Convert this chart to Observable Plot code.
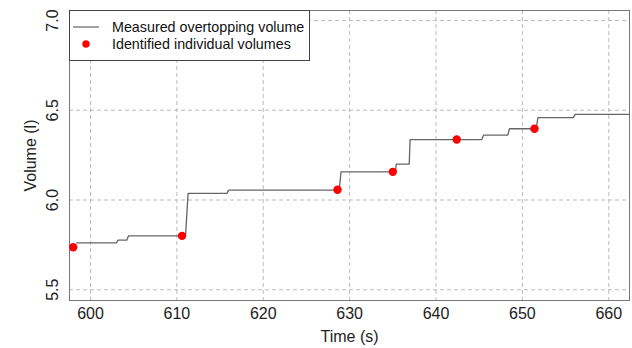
<!DOCTYPE html>
<html>
<head>
<meta charset="utf-8">
<script src="https://cdn.jsdelivr.net/npm/d3@7"></script>
<script src="https://cdn.jsdelivr.net/npm/@observablehq/plot@0.6"></script>
<style>
  html, body { margin: 0; padding: 0; background: #fff; }
</style>
</head>
<body>
<div id="wrap"></div>
<script>
// Measured overtopping volume (stepped trace)
const lineTime   = [598.4, 603.0, 603.2, 604.2, 604.4, 611.0, 611.3, 615.8, 616.0, 628.8, 629.0, 635.3, 635.4, 636.9, 637.0, 645.3, 645.5, 648.3, 648.5, 651.6, 651.8, 655.9, 656.1, 662.4];
const lineVolume = [5.761, 5.761, 5.776, 5.776, 5.800, 5.800, 6.037, 6.037, 6.055, 6.055, 6.157, 6.157, 6.200, 6.200, 6.337, 6.337, 6.361, 6.361, 6.397, 6.397, 6.459, 6.459, 6.477, 6.477];
// Identified individual volumes
const pointTime   = [598.0, 610.6, 628.6, 635.0, 642.4, 651.4];
const pointVolume = [5.737, 5.800, 6.057, 6.157, 6.337, 6.397];
// Ticks
const xTicks = [600, 610, 620, 630, 640, 650, 660];
const yTicks = [5.5, 6.0, 6.5, 7.0];
// Legend labels
const legendLabels = ["Measured overtopping volume", "Identified individual volumes"];

const lineData = lineTime.map((t, i) => ({t, v: lineVolume[i]}));
const pointData = pointTime.map((t, i) => ({t, v: pointVolume[i]}));

const chart = Plot.plot({
  width: 632,
  height: 348,
  marginLeft: 69,
  marginRight: 3,
  marginTop: 10,
  marginBottom: 48,
  style: { fontFamily: "Liberation Sans, Arial, sans-serif", fontSize: "16px", color: "#222", background: "#fff", overflow: "visible" },
  x: { domain: [597.57, 662.4], ticks: xTicks, label: null, axis: null },
  y: { domain: [5.44, 7.056], ticks: yTicks, label: null, axis: null },
  marks: [
    Plot.gridX(xTicks, { stroke: "#bbb", strokeOpacity: 1, strokeDasharray: "4,3" }),
    Plot.gridY(yTicks, { stroke: "#bbb", strokeOpacity: 1, strokeDasharray: "4,3" }),
    Plot.frame({ stroke: "#777" }),
    Plot.line(lineData, { x: "t", y: "v", stroke: "#666", strokeWidth: 1.3 }),
    Plot.dot(pointData, { x: "t", y: "v", r: 4.2, fill: "#f00", stroke: "none" }),
    Plot.axisX(xTicks, { tickSize: 0, tickPadding: 7, fontSize: 16, tickFormat: d => String(d), label: null }),
    Plot.text(yTicks, { y: d => d, frameAnchor: "left", dx: -17, rotate: -90, textAnchor: "middle", lineAnchor: "middle", text: d => d.toFixed(1), fontSize: 16, fill: "#222" }),
    Plot.text(["Time (s)"], { frameAnchor: "bottom", dy: 41, text: d => d, fontSize: 16, fill: "#222" }),
    Plot.text(["Volume (l)"], { frameAnchor: "left", dx: -39, rotate: -90, textAnchor: "middle", lineAnchor: "middle", text: d => d, fontSize: 16, fill: "#222" })
  ]
});

document.getElementById("wrap").appendChild(chart);

// Legend drawn into the chart's SVG (top-left inside the frame)
const svg = d3.select(chart);
const lg = svg.append("g").attr("transform", "translate(69,10)")
  .attr("text-anchor", "start")
  .style("font-family", "Liberation Sans, Arial, sans-serif").style("font-size", "14.3px");
lg.append("rect").attr("x", 0.5).attr("y", 0.5).attr("width", 240).attr("height", 50)
  .attr("fill", "#fff").attr("stroke", "#444");
legendLabels.forEach((label, i) => {
  const cy = 17 + i * 17;
  if (i === 0) {
    lg.append("line").attr("x1", 4).attr("x2", 30).attr("y1", cy).attr("y2", cy)
      .attr("stroke", "#444").attr("stroke-width", 1);
  } else {
    lg.append("circle").attr("cx", 17).attr("cy", cy).attr("r", 3.7).attr("fill", "#f00");
  }
  lg.append("text").attr("x", 43).attr("y", cy).attr("dy", "0.35em")
    .attr("text-anchor", "start").attr("fill", "#111").text(label);
});
</script>
</body>
</html>
